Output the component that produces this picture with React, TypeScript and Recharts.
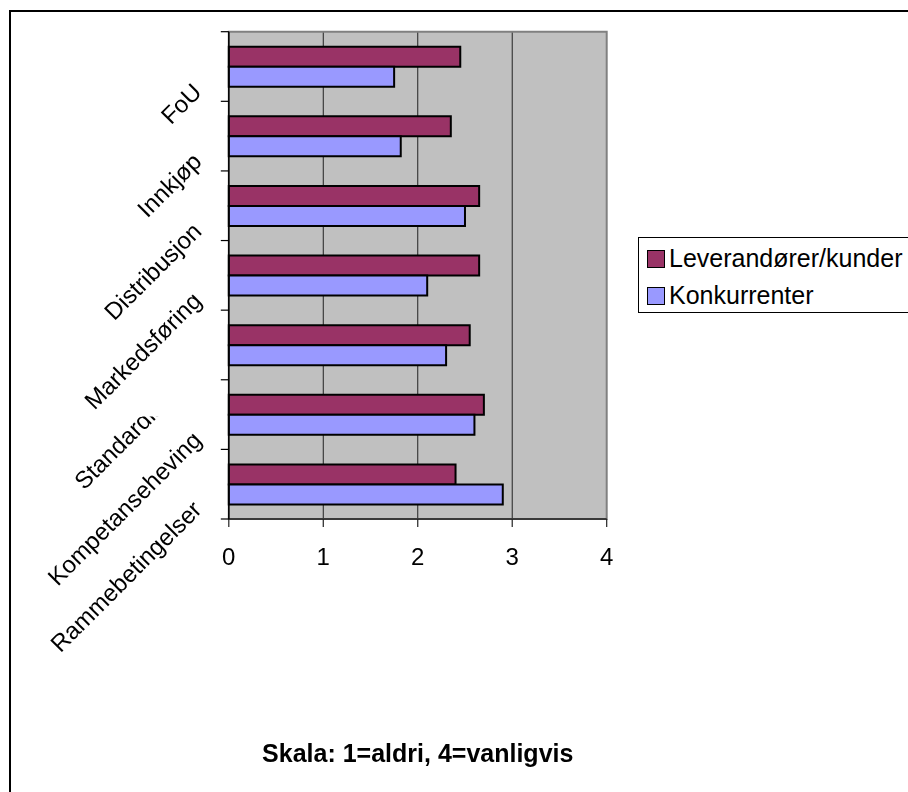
import React from 'react';
import {
  BarChart,
  Bar,
  XAxis,
  YAxis,
  CartesianGrid,
  ReferenceArea,
  Label,
} from 'recharts';

// Activities, listed top to bottom
const categories = [
  'FoU',
  'Innkjøp',
  'Distribusjon',
  'Markedsføring',
  'Standardisering',
  'Kompetanseheving',
  'Rammebetingelser',
];

// Average scores per partner type (1 = aldri, 4 = vanligvis)
const leverandorer = [2.45, 2.35, 2.65, 2.65, 2.55, 2.7, 2.4];
const konkurrenter = [1.75, 1.82, 2.5, 2.1, 2.3, 2.6, 2.9];

const seriesNames = ['Leverandører/kunder', 'Konkurrenter'];
const seriesColors = ['#993366', '#9999FF'];

const xTicks = [0, 1, 2, 3, 4];
const gridValues = [1, 2, 3];
const title = 'Skala: 1=aldri, 4=vanligvis';

const data = categories.map((name, i) => ({
  name,
  lev: leverandorer[i],
  konk: konkurrenter[i],
}));

// Layout
const W = 900;
const H = 784;
const MARGIN = { top: 23.7, right: 301.3, bottom: 233, left: 20.8 };
const Y_AXIS_W = 200;
const X_AXIS_H = 40;
const Y_TICK = 8;
const PLOT_H = H - MARGIN.top - MARGIN.bottom - X_AXIS_H;
const BAND = PLOT_H / categories.length;
const FONT = '"Liberation Sans", Arial, Helvetica, sans-serif';

// Labels that are hidden above a horizontal line (px below their tick)
const LABEL_HIDE_ABOVE: Record<string, number> = { Standardisering: 71.5 };

function CategoryTick(props: any) {
  const { x, y, payload, index, visibleTicksCount } = props;
  const half = payload && payload.offset > 0 ? payload.offset : BAND / 2;
  const axisX = x + Y_TICK;
  const label = String(payload.value);
  const cutY = LABEL_HIDE_ABOVE[label];
  const clipId = `label-clip-${index}`;
  const last = index === (visibleTicksCount ?? categories.length) - 1;
  return (
    <g>
      <line x1={x} x2={axisX} y1={y - half} y2={y - half} stroke="#000" strokeWidth={1.2} />
      {last && (
        <line x1={x} x2={axisX} y1={y + half} y2={y + half} stroke="#000" strokeWidth={1.2} />
      )}
      {cutY !== undefined && (
        <defs>
          <clipPath id={clipId}>
            <rect x={x - 400} y={y + cutY} width={420} height={400} />
          </clipPath>
        </defs>
      )}
      <g clipPath={cutY !== undefined ? `url(#${clipId})` : undefined}>
        <g transform={`translate(${x - 17.8},${y + 27}) rotate(-45)`}>
          <text x={0} y={0} textAnchor="end" fontSize={24} fill="#000" fontFamily={FONT}>
            {label}
          </text>
        </g>
      </g>
    </g>
  );
}

// Legend box to the right of the plot; it runs past the right window edge
function LegendBox() {
  return (
    <div
      style={{
        position: 'fixed',
        left: 638,
        top: 237,
        width: 320,
        height: 76,
        border: '1px solid #000',
        boxSizing: 'border-box',
        background: '#fff',
        paddingTop: 2,
        fontFamily: FONT,
        fontSize: 25,
        color: '#000',
      }}
    >
      {seriesNames.map((name, i) => (
        <div key={name} style={{ display: 'flex', alignItems: 'center', height: 37 }}>
          <span
            style={{
              display: 'inline-block',
              flex: 'none',
              width: 18,
              height: 18,
              boxSizing: 'border-box',
              marginLeft: 8,
              marginRight: 4,
              background: seriesColors[i],
              border: '1.5px solid #000',
            }}
          />
          <span style={{ whiteSpace: 'nowrap', lineHeight: '37px', flex: 'none' }}>{name}</span>
        </div>
      ))}
    </div>
  );
}

const gridX = (args: any) => {
  const { xAxis, offset } = args;
  const max = xTicks[xTicks.length - 1];
  return gridValues.map((v) =>
    xAxis && typeof xAxis.scale === 'function'
      ? xAxis.scale(v)
      : offset.left + (offset.width * v) / max,
  );
};

export default function App() {
  return (
    <div style={{ position: 'relative', width: W, height: H }}>
      {/* the chart runs off the window on the right and bottom; keep the page from scrolling */}
      <style>{'html { overflow: hidden; }'}</style>
      {/* outer chart frame */}
      <div
        style={{
          position: 'fixed',
          left: 9,
          top: 9.5,
          width: 1200,
          height: 1200,
          borderLeft: '2px solid #000',
          borderTop: '2px solid #000',
        }}
      />
      <div style={{ position: 'absolute', left: 0, top: 0, width: W, height: H }}>
        <BarChart
          width={W}
          height={H}
          data={data}
          layout="vertical"
          margin={MARGIN}
          barCategoryGap={15}
          barGap={0}
          style={{ fontFamily: FONT }}
        >
          <CartesianGrid
            horizontal={false}
            fill="#C0C0C0"
            stroke="#222"
            strokeWidth={1}
            verticalCoordinatesGenerator={gridX}
          />
          <XAxis
            type="number"
            domain={[0, 4]}
            ticks={xTicks}
            interval={0}
            height={X_AXIS_H}
            tickSize={8}
            tickMargin={21}
            tick={{ fill: '#000', fontSize: 24, fontFamily: FONT }}
            axisLine={{ stroke: '#222', strokeWidth: 1.5 }}
            tickLine={{ stroke: '#222', strokeWidth: 1.2 }}
          >
            <Label
              value={title}
              position="bottom"
              offset={185}
              fontSize={25}
              fontWeight="bold"
              fill="#000"
              fontFamily={FONT}
            />
          </XAxis>
          <YAxis
            type="category"
            dataKey="name"
            width={Y_AXIS_W}
            tickSize={Y_TICK}
            tickMargin={0}
            tickLine={false}
            interval={0}
            axisLine={{ stroke: '#000', strokeWidth: 1.5 }}
            tick={(p: any) => <CategoryTick {...p} />}
          />
          <ReferenceArea
            x1={0}
            x2={4}
            fill="none"
            stroke="#808080"
            strokeWidth={2}
            ifOverflow="visible"
          />
          <Bar
            dataKey="lev"
            name={seriesNames[0]}
            fill={seriesColors[0]}
            stroke="#000"
            strokeWidth={2}
            isAnimationActive={false}
          />
          <Bar
            dataKey="konk"
            name={seriesNames[1]}
            fill={seriesColors[1]}
            stroke="#000"
            strokeWidth={2}
            isAnimationActive={false}
          />
        </BarChart>
      </div>
      <LegendBox />
    </div>
  );
}
